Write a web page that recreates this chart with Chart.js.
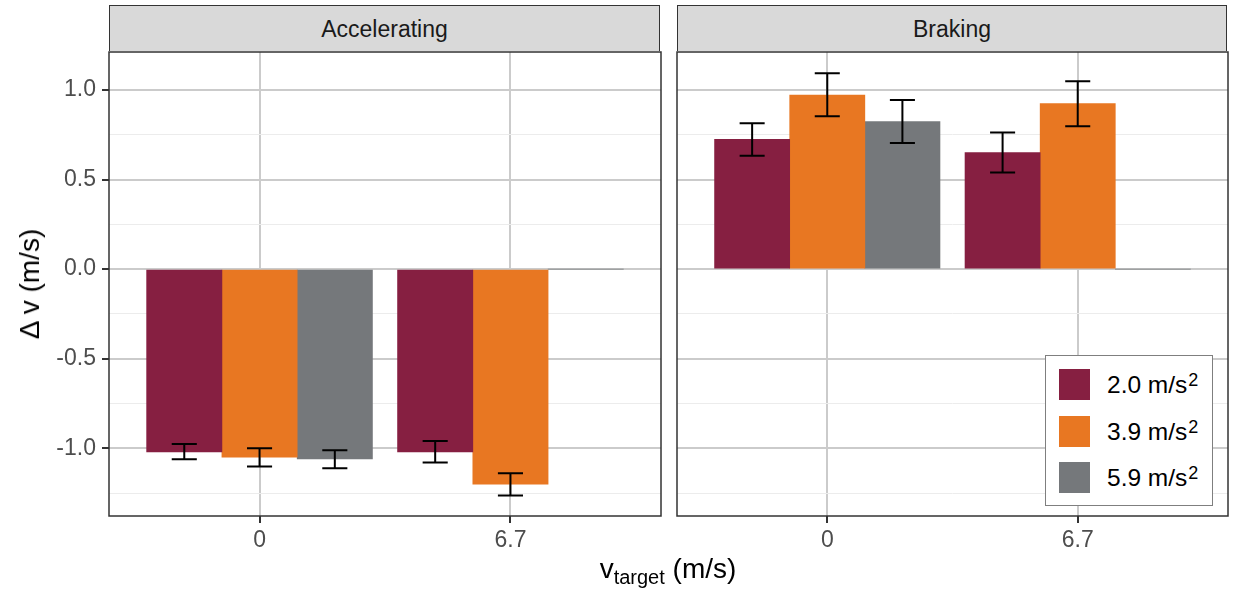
<!DOCTYPE html>
<html>
<head>
<meta charset="utf-8">
<script src="https://cdn.jsdelivr.net/npm/chart.js@4.4.1/dist/chart.umd.min.js"></script>
<style>
    body { margin: 0; background: #fff; font-family: "Liberation Sans", Arial, sans-serif; }
    #page { position: relative; width: 1233px; height: 594px; overflow: hidden; }
    .panel { position: absolute; top: 40px; height: 516px; }
    .strip {
        position: absolute; top: 5px; height: 45px; box-sizing: content-box;
        background: #d9d9d9; border: 1.5px solid #333; border-bottom: none;
        font-size: 23px; color: #1a1a1a; text-align: center; line-height: 46px;
    }
    .ytitle {
        position: absolute; left: 30px; top: 284px; font-size: 28px; color: #000;
        transform: translate(-50%, -50%) rotate(-90deg); white-space: nowrap;
    }
    .xtitle {
        position: absolute; left: 668px; top: 553px; font-size: 28px; color: #000;
        transform: translateX(-50%); white-space: nowrap;
    }
    .xtitle sub { font-size: 20px; vertical-align: -6px; }
    #legend {
        position: absolute; left: 1045px; top: 355px; width: 166px; height: 149px;
        border: 1.5px solid #7f7f7f; background: #fff;
    }
    .key { position: absolute; left: 13px; width: 31px; height: 31px; }
    .ktext { position: absolute; left: 61px; font-size: 24.5px; color: #000; line-height: 31px; white-space: nowrap; }
    .ktext sup { font-size: 18px; vertical-align: 7px; line-height: 0; margin-left: 1px; }
</style>
</head>
<body>
<div id="page">
    <div class="strip" style="left:109px; width:549px;">Accelerating</div>
    <div class="strip" style="left:677px; width:548px;">Braking</div>
    <div class="panel" style="left:0; width:670px;"><canvas id="accel"></canvas></div>
    <div class="panel" style="left:670px; width:563px;"><canvas id="brake"></canvas></div>
    <div class="ytitle">Δ v (m/s)</div>
    <div class="xtitle">v<sub>target</sub> (m/s)</div>
    <div id="legend"></div>
</div>
<script>
// ===== Data =====
const categories = ['0', '6.7'];
const seriesNames = ['2.0', '3.9', '5.9'];
const seriesColors = ['#861F41', '#E87722', '#75787B'];

// Accelerating panel
const accel20 = [-1.02, -1.02];
const accel39 = [-1.05, -1.20];
const accel59 = [-1.06, 0];
const accel20Lo = [-1.061, -1.08];
const accel20Hi = [-0.976, -0.959];
const accel39Lo = [-1.102, -1.263];
const accel39Hi = [-1.0, -1.14];
const accel59Lo = [-1.112, null];
const accel59Hi = [-1.011, null];

// Braking panel
const brake20 = [0.725, 0.650];
const brake39 = [0.972, 0.924];
const brake59 = [0.823, 0];
const brake20Lo = [0.633, 0.540];
const brake20Hi = [0.814, 0.762];
const brake39Lo = [0.853, 0.797];
const brake39Hi = [1.093, 1.049];
const brake59Lo = [0.704, null];
const brake59Hi = [0.944, null];

const yTicks = [-1.25, -1.0, -0.75, -0.5, -0.25, 0, 0.25, 0.5, 0.75, 1.0];
const Y_MIN = -1.378, Y_MAX = 1.212;
const DODGE = 0.3;

// ===== Helpers =====
const isMajor = v => Math.abs(v * 2 - Math.round(v * 2)) < 1e-6;

function makeDatasets(means, los, his) {
    return means.map((vals, s) => ({
        label: seriesNames[s],
        data: vals.map((v, c) => ({ x: c + 1 + (s - 1) * DODGE, y: v })),
        errLo: los[s],
        errHi: his[s],
        backgroundColor: seriesColors[s],
        borderWidth: 0,
        grouped: false,
        categoryPercentage: 1,
        barPercentage: 1,
    }));
}

// error bars + panel border, drawn through the chart's scales
const errorBarPlugin = {
    id: 'errorBars',
    afterDatasetsDraw(chart) {
        const { ctx, scales: { x, y } } = chart;
        ctx.save();
        ctx.strokeStyle = '#000';
        ctx.lineWidth = 2;
        chart.data.datasets.forEach(ds => {
            ds.data.forEach((p, i) => {
                const lo = ds.errLo[i], hi = ds.errHi[i];
                if (lo === null || hi === null) return;
                const px = x.getPixelForValue(p.x);
                const half = (x.getPixelForValue(p.x + 0.05) - px);
                const yl = y.getPixelForValue(lo), yh = y.getPixelForValue(hi);
                ctx.beginPath();
                ctx.moveTo(px, yl); ctx.lineTo(px, yh);
                ctx.moveTo(px - half, yl); ctx.lineTo(px + half, yl);
                ctx.moveTo(px - half, yh); ctx.lineTo(px + half, yh);
                ctx.stroke();
            });
        });
        const a = chart.chartArea;
        ctx.strokeStyle = '#333';
        ctx.lineWidth = 1.5;
        ctx.strokeRect(a.left, a.top, a.right - a.left, a.bottom - a.top);
        ctx.restore();
    }
};

function buildChart(canvasId, datasets, showY, padRight, yWidth) {
    return new Chart(document.getElementById(canvasId), {
        type: 'bar',
        data: { datasets },
        plugins: [errorBarPlugin],
        options: {
            responsive: true,
            maintainAspectRatio: false,
            animation: false,
            layout: { padding: { top: 12, right: padRight, bottom: 0, left: 0 } },
            plugins: { legend: { display: false }, tooltip: { enabled: false } },
            scales: {
                x: {
                    type: 'linear',
                    offset: false,
                    min: 0.4, max: 2.6,
                    afterBuildTicks: s => { s.ticks = categories.map((_, i) => ({ value: i + 1 })); },
                    afterFit: s => { s.height = 40; s.paddingLeft = 0; s.paddingRight = 0; },
                    border: { display: false },
                    grid: { offset: false, color: '#cbcbcb', lineWidth: 2, tickColor: '#333', tickLength: 7 },
                    ticks: {
                        padding: 4,
                        color: '#4d4d4d',
                        font: { family: 'Liberation Sans', size: 23 },
                        callback: v => categories[Math.round(v) - 1],
                    },
                },
                y: {
                    min: Y_MIN, max: Y_MAX,
                    afterBuildTicks: s => { s.ticks = yTicks.map(v => ({ value: v })); },
                    afterFit: s => { s.width = yWidth; s.paddingTop = 0; s.paddingBottom = 0; },
                    border: { display: false },
                    grid: {
                        color: c => isMajor(c.tick.value) ? '#cbcbcb' : '#ececec',
                        lineWidth: c => isMajor(c.tick.value) ? 2 : 1,
                        tickColor: c => isMajor(c.tick.value) ? '#333' : 'rgba(0,0,0,0)',
                        tickLength: 7,
                        drawTicks: showY,
                    },
                    ticks: {
                        display: showY,
                        padding: 6,
                        color: '#4d4d4d',
                        font: { family: 'Liberation Sans', size: 23 },
                        callback: v => isMajor(v) ? v.toFixed(1) : '',
                    },
                },
            },
        },
    });
}

buildChart('accel',
    makeDatasets([accel20, accel39, accel59], [accel20Lo, accel39Lo, accel59Lo], [accel20Hi, accel39Hi, accel59Hi]),
    true, 9, 109);
buildChart('brake',
    makeDatasets([brake20, brake39, brake59], [brake20Lo, brake39Lo, brake59Lo], [brake20Hi, brake39Hi, brake59Hi]),
    false, 5, 7);

// ===== Legend =====
const legend = document.getElementById('legend');
seriesNames.forEach((name, i) => {
    const top = 13 + i * 46.5;
    const key = document.createElement('div');
    key.className = 'key';
    key.style.top = top + 'px';
    key.style.background = seriesColors[i];
    legend.appendChild(key);
    const txt = document.createElement('div');
    txt.className = 'ktext';
    txt.style.top = top + 'px';
    txt.innerHTML = `${name} m/s<sup>2</sup>`;
    legend.appendChild(txt);
});
</script>
</body>
</html>
